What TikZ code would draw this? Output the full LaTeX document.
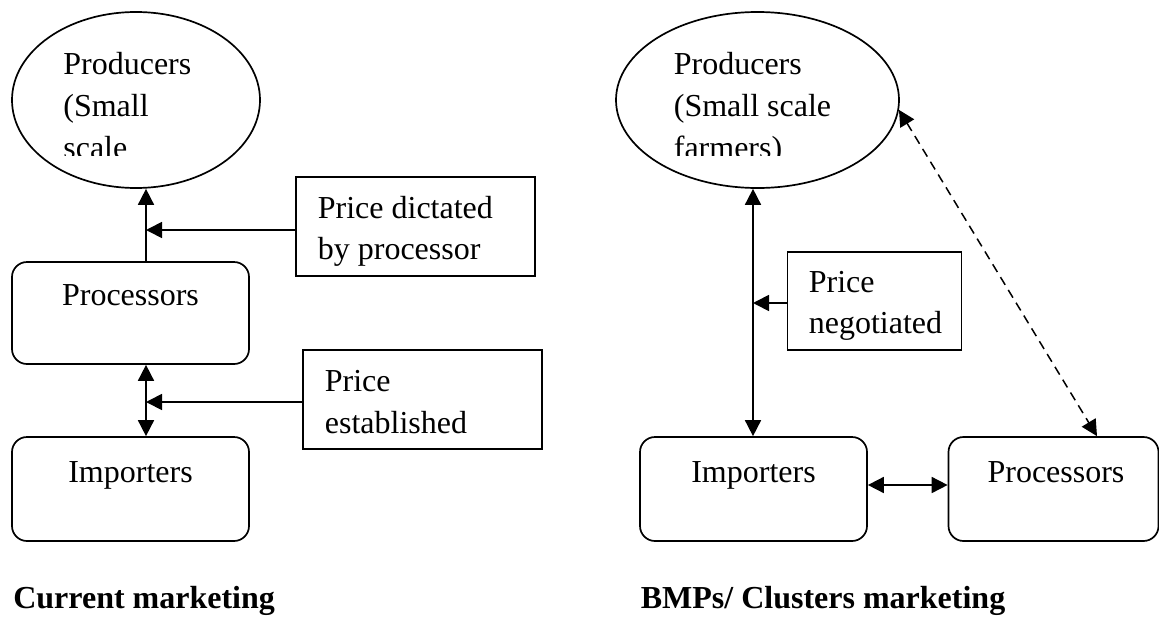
\documentclass[tikz,border=0pt]{standalone}
\usepackage{fontspec}
\setmainfont{Liberation Serif}
\usetikzlibrary{arrows.meta,shapes.geometric}
\begin{document}
\begin{tikzpicture}[x=1pt,y=-1pt,
  line width=1.7pt,
  tri/.tip={Triangle[length=16pt,width=16pt]},
  ell/.style={draw,ellipse,inner sep=0pt,minimum height=176pt},
  rbox/.style={draw,rectangle,rounded corners=15pt,inner sep=0pt},
  sbox/.style={draw,rectangle,inner sep=0pt},
  txt/.style={inner sep=0pt,anchor=base west,font=\fontsize{32pt}{42pt}\selectfont},
  ctxt/.style={inner sep=0pt,anchor=base,font=\fontsize{32pt}{42pt}\selectfont},
  ttl/.style={inner sep=0pt,anchor=base west,font=\fontsize{32pt}{42pt}\selectfont\bfseries},
  conn/.style={line width=1.7pt},
  dashconn/.style={line width=1.5pt,dash pattern=on 9pt off 6pt}
]
\useasboundingbox (0,0) rectangle (1159,616);

% ---------- left: current marketing ----------
\node[ell,minimum width=248pt] (lprod) at (136,100) {};
\begin{scope}
  \clip (0,0) rectangle (300,155);
  \node[txt] (lprodA) at (62.5,74) {Producers};
  \node[txt] (lprodB) at (62.5,116) {(Small};
  \node[txt] (lprodC) at (62.5,158) {scale};
\end{scope}
\node[rbox,minimum width=237pt,minimum height=102pt] (lproc) at (130.5,313) {};
\node[ctxt] (lprocT) at (130.5,305) {Processors};
\node[rbox,minimum width=237pt,minimum height=104pt] (limp) at (130.5,489) {};
\node[ctxt] (limpT) at (130.5,482) {Importers};
\node[sbox,minimum width=239pt,minimum height=99pt] (ldict) at (415.5,226.5) {};
\node[txt] (ldictA) at (317,218) {Price dictated};
\node[txt] (ldictB) at (317,259) {by processor};
\node[sbox,minimum width=239pt,minimum height=99pt] (lest) at (422.5,399.5) {};
\node[txt] (lestA) at (324,391) {Price};
\node[txt] (lestB) at (324,433) {established};
\node[ttl] (ltitle) at (12.5,608) {Current marketing};

\coordinate (lx) at (146,0);
\coordinate (dy) at (0,230);
\coordinate (ey) at (0,402);
\draw[conn,-tri] (lproc.north -| lx) -- (lprod.south -| lx);
\draw[conn,-tri] (ldict.west |- dy) -- (lx |- dy);
\draw[conn,tri-tri] (lproc.south -| lx) -- (limp.north -| lx);
\draw[conn,-tri] (lest.west |- ey) -- (lx |- ey);

% ---------- right: BMPs / clusters marketing ----------
\node[ell,minimum width=283pt] (rprod) at (757.5,100) {};
\begin{scope}
  \clip (600,0) rectangle (920,155);
  \node[txt] (rprodA) at (673,74) {Producers};
  \node[txt] (rprodB) at (673,116) {(Small scale};
  \node[txt] (rprodC) at (673,158) {farmers)};
\end{scope}
\node[rbox,minimum width=227pt,minimum height=104pt] (rimp) at (753.5,489) {};
\node[ctxt] (rimpT) at (753.5,482) {Importers};
\node[rbox,minimum width=210pt,minimum height=104pt] (rproc) at (1053.5,489) {};
\node[ctxt] (rprocT) at (1056,482) {Processors};
\node[sbox,minimum width=174pt,minimum height=98pt] (rneg) at (874.5,301) {};
\node[txt] (rnegA) at (808,292) {Price};
\node[txt] (rnegB) at (808,333) {negotiated};
\node[ttl] (rtitle) at (640,608) {BMPs/ Clusters marketing};

\coordinate (rx) at (753,0);
\coordinate (ny) at (0,303);
\coordinate (iy) at (0,485);
\coordinate (dx) at (1097,0);
\draw[conn,tri-tri] (rprod.south -| rx) -- (rimp.north -| rx);
\draw[conn,-tri] (rneg.west |- ny) -- (rx |- ny);
\draw[conn,tri-tri] (rimp.east |- iy) -- (rproc.west |- iy);
\draw[dashconn,tri-tri] (rprod.-4.5) -- (rproc.north -| dx);
\end{tikzpicture}
\end{document}
